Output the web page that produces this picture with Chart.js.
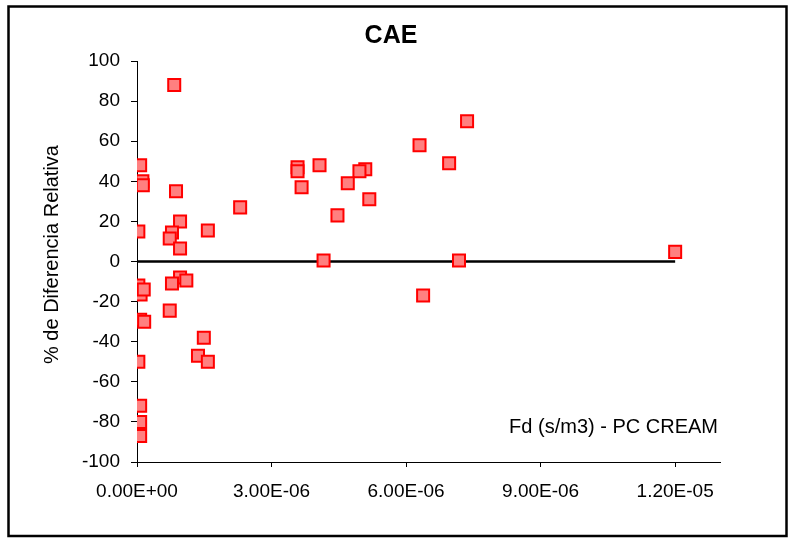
<!DOCTYPE html>
<html>
<head>
<meta charset="utf-8">
<script src="https://cdn.jsdelivr.net/npm/chart.js@4/dist/chart.umd.min.js"></script>
<style>
  html, body { margin: 0; padding: 0; background: #fff; }
  #wrap { width: 789px; height: 538px; }
</style>
</head>
<body>
<div id="wrap"><canvas id="c" width="789" height="538"></canvas></div>
<script>
const chartTitle = "CAE";
const yAxisTitle = "% de Diferencia Relativa";
const xAxisNote = "Fd (s/m3) - PC CREAM";

const xTickValues = [0, 3e-6, 6e-6, 9e-6, 1.2e-5];
const xTickLabels = ["0.00E+00", "3.00E-06", "6.00E-06", "9.00E-06", "1.20E-05"];
const yTickValues = [-100, -80, -60, -40, -20, 0, 20, 40, 60, 80, 100];

// Fd (s/m3) values
const fdValues = [
  0.83e-6, 0.07e-6, 0.12e-6, 0.13e-6, 0.87e-6, 2.30e-6, 0.96e-6, 0.03e-6, 0.78e-6, 0.73e-6,
  1.58e-6, 0.96e-6, 0.96e-6, 1.10e-6, 0.78e-6, 0.03e-6, 0.08e-6, 0.15e-6, 0.73e-6, 0.07e-6,
  0.16e-6, 1.49e-6, 1.36e-6, 1.58e-6, 0.03e-6, 0.07e-6, 0.07e-6, 0.07e-6, 7.36e-6, 6.30e-6,
  6.96e-6, 3.58e-6, 3.58e-6, 4.07e-6, 5.09e-6, 4.96e-6, 4.70e-6, 3.67e-6, 5.18e-6, 4.47e-6,
  4.16e-6, 7.18e-6, 6.38e-6, 12.0e-6
];
// % relative difference
const diffValues = [
  88, 48, 40, 38, 35, 27, 20, 15, 14.5, 11.5,
  15.5, 6.5, -8, -9.5, -11, -12, -16.5, -14, -24.5, -29,
  -30, -38, -47, -50, -50, -72, -80, -87, 70, 58,
  49, 47, 45, 48, 46, 45, 39, 37, 31, 23,
  0.5, 0.5, -17, 4.8
];
// zero reference line
const zeroLineX = [0, 1.2e-5];
const zeroLineY = [0, 0];

const FONT = "'Liberation Sans', Arial, sans-serif";

const decorPlugin = {
  id: 'decor',
  beforeDraw(chart) {
    const ctx = chart.ctx;
    ctx.save();
    ctx.fillStyle = '#fff';
    ctx.fillRect(0, 0, chart.width, chart.height);
    ctx.restore();
  },
  afterDraw(chart) {
    const ctx = chart.ctx;
    const a = chart.chartArea;
    ctx.save();
    // outer border
    ctx.strokeStyle = '#000';
    ctx.lineWidth = 2.5;
    ctx.strokeRect(8.5, 6.5, 778, 529.5);
    // title
    ctx.fillStyle = '#000';
    ctx.font = "bold 25px " + FONT;
    ctx.textAlign = 'center';
    ctx.textBaseline = 'alphabetic';
    ctx.fillText(chartTitle, 391, 43);
    // note inside plot
    ctx.font = "20px " + FONT;
    ctx.textAlign = 'right';
    ctx.fillText(xAxisNote, a.right - 2, a.bottom - 29);
    // y axis title
    ctx.translate(58, (a.top + a.bottom) / 2 - 7);
    ctx.rotate(-Math.PI / 2);
    ctx.textAlign = 'center';
    ctx.fillText(yAxisTitle, 0, 0);
    ctx.restore();
  }
};

new Chart(document.getElementById('c'), {
  type: 'scatter',
  data: {
    datasets: [
      {
        label: 'CAE',
        data: fdValues.map((x, i) => ({ x: x, y: diffValues[i] })),
        pointStyle: 'rect',
        pointRadius: 8.5,
        pointHoverRadius: 8.5,
        borderWidth: 2,
        backgroundColor: '#FF8080',
        borderColor: '#FF0000',
        showLine: false
      },
      {
        label: 'zero',
        type: 'line',
        data: zeroLineX.map((x, i) => ({ x: x, y: zeroLineY[i] })),
        borderColor: '#000',
        borderWidth: 2.5,
        pointRadius: 0,
        fill: false
      }
    ]
  },
  options: {
    responsive: false,
    animation: false,
    events: [],
    layout: { padding: { left: 0, top: 61, right: 69, bottom: 0 } },
    plugins: {
      legend: { display: false },
      title: { display: false },
      tooltip: { enabled: false }
    },
    scales: {
      x: {
        type: 'linear',
        min: 0,
        max: 1.3e-5,
        afterBuildTicks(scale) {
          scale.ticks = xTickValues.map(v => ({ value: v }));
        },
        afterFit(scale) { scale.height = 76; },
        grid: { display: true, drawOnChartArea: false, tickLength: 5, color: '#000', lineWidth: 1 },
        border: { display: true, color: '#000', width: 1 },
        ticks: {
          autoSkip: false,
          maxRotation: 0,
          padding: 13,
          color: '#000',
          font: { family: FONT, size: 19 },
          callback: (v, i) => xTickLabels[i]
        }
      },
      y: {
        type: 'linear',
        min: -100,
        max: 100,
        afterBuildTicks(scale) {
          scale.ticks = yTickValues.map(v => ({ value: v }));
        },
        afterFit(scale) { scale.width = 137; },
        grid: { display: true, drawOnChartArea: false, tickLength: 6, color: '#000', lineWidth: 1 },
        border: { display: true, color: '#000', width: 1 },
        ticks: {
          autoSkip: false,
          padding: 11,
          color: '#000',
          font: { family: FONT, size: 19 },
          callback: (v) => String(v)
        }
      }
    }
  },
  plugins: [decorPlugin]
});
</script>
</body>
</html>
